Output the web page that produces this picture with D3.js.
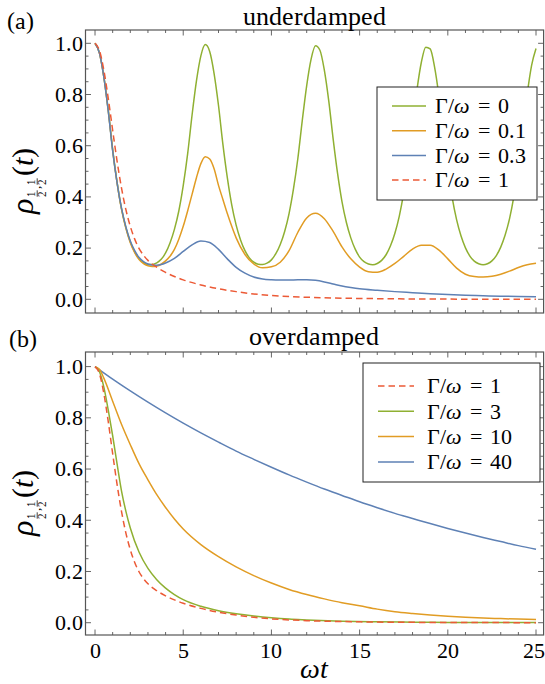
<!DOCTYPE html>
<html><head><meta charset="utf-8">
<script src="https://cdn.jsdelivr.net/npm/d3@7"></script>
<style>
body{margin:0;background:#fff}
@font-face{font-family:"RefSerif";src:local("Liberation Serif"),local("LiberationSerif"),local("Liberation Serif Regular"),local("LiberationSerif-Regular");font-style:normal;font-weight:400;}
@font-face{font-family:"RefSerif";src:local("Liberation Serif Italic"),local("LiberationSerif-Italic");font-style:italic;font-weight:400;}
</style>
</head><body>
<svg id="c" width="545" height="684"></svg>
<script>
// ---------------- data ----------------
const tQuarter = [0,0.25,0.5,0.75,1,1.25,1.5,1.75,2,2.25,2.5,2.75,3,3.25,3.5,3.75,4,4.25,4.5,4.75,5,5.25,5.5,5.75,6,6.25,6.5,6.75,7,7.25,7.5,7.75,8,8.25,8.5,8.75,9,9.25,9.5,9.75,10,10.25,10.5,10.75,11,11.25,11.5,11.75,12,12.25,12.5,12.75,13,13.25,13.5,13.75,14,14.25,14.5,14.75,15,15.25,15.5,15.75,16,16.25,16.5,16.75,17,17.25,17.5,17.75,18,18.25,18.5,18.75,19,19.25,19.5,19.75,20,20.25,20.5,20.75,21,21.25,21.5,21.75,22,22.25,22.5,22.75,23,23.25,23.5,23.75,24,24.25,24.5,24.75,25];
// (a) Gamma/omega = 0
const under0 = [1.000,0.963,0.870,0.740,0.585,0.458,0.355,0.280,0.225,0.185,0.158,0.143,0.136,
 0.136,0.142,0.156,0.181,0.220,0.273,0.345,0.444,0.568,0.719,0.853,0.951,0.995,
 0.968,0.882,0.757,0.605,0.475,0.369,0.290,0.232,0.190,0.162,0.145,0.137,
 0.136,0.141,0.154,0.178,0.214,0.265,0.335,0.431,0.551,0.699,0.835,0.938,0.990,
 0.973,0.895,0.775,0.626,0.492,0.382,0.300,0.240,0.196,0.165,0.147,0.138,
 0.135,0.140,0.152,0.174,0.209,0.258,0.325,0.417,0.534,0.678,0.818,0.926,0.985,
 0.978,0.907,0.792,0.647,0.509,0.396,0.310,0.247,0.201,0.169,0.149,0.139,
 0.135,0.139,0.150,0.171,0.204,0.251,0.315,0.404,0.517,0.657,0.801,0.914,0.980];
// (a) Gamma/omega = 0.1
const under01T = [0,0.25,0.5,0.75,1,1.25,1.5,1.75,2,2.25,2.5,2.75,3,3.25,3.5,3.75,4,4.25,4.5,4.75,5,5.25,5.5,5.75,6,6.25,6.5,6.75,7,7.25,7.5,7.75,8,8.5,9,9.5,10,10.5,11,11.5,12,12.5,13,13.5,14,14.5,15,15.5,16,16.5,17,17.5,18,18.5,19,19.5,20,20.5,21,21.5,22,22.5,23,23.5,24,24.5,25];
const under01 = [1.0,0.962,0.868,0.737,0.583,0.455,0.352,0.277,0.221,0.182,0.155,0.139,0.131,0.128,0.130,0.137,0.150,0.168,0.195,0.235,0.285,0.345,0.41,0.475,0.53,0.557,0.548,0.51,0.445,0.39,0.335,0.285,0.24,0.175,0.138,0.123,0.127,0.145,0.19,0.262,0.318,0.336,0.315,0.265,0.205,0.158,0.126,0.108,0.106,0.118,0.14,0.168,0.196,0.211,0.211,0.192,0.158,0.122,0.098,0.089,0.087,0.090,0.098,0.110,0.124,0.135,0.141];
// (a) Gamma/omega = 0.3
const under03T = [0,0.25,0.5,0.75,1,1.25,1.5,1.75,2,2.25,2.5,2.75,3,3.25,3.5,3.75,4,4.5,5,5.5,6,6.5,7,7.5,8,8.5,9,9.5,10,10.5,11,11.5,12,12.5,13,13.5,14,14.5,15,16,17,18,19,20,21,22,23,24,25];
const under03 = [1.0,0.962,0.868,0.735,0.58,0.455,0.356,0.283,0.228,0.19,0.163,0.147,0.138,0.134,0.133,0.136,0.142,0.16,0.187,0.213,0.228,0.222,0.195,0.158,0.125,0.102,0.087,0.079,0.076,0.075,0.075,0.076,0.076,0.074,0.068,0.06,0.052,0.046,0.041,0.035,0.03,0.026,0.022,0.019,0.016,0.014,0.012,0.011,0.010];
// Gamma/omega = 1 (both panels)
const crit1T = [0,0.25,0.5,0.75,1,1.25,1.5,1.75,2,2.25,2.5,2.75,3,3.5,4,4.5,5,6,7,8,9,10,11,12,13,14,16,18,20,22,25];
const crit1 = [1.0,0.972,0.895,0.785,0.66,0.54,0.435,0.35,0.285,0.235,0.198,0.172,0.152,0.125,0.105,0.089,0.076,0.056,0.041,0.03,0.021,0.015,0.011,0.008,0.006,0.0045,0.0025,0.0014,0.0008,0.0005,0.0002];
// (b) Gamma/omega = 3
const over3T = [0,0.25,0.5,0.75,1,1.25,1.5,1.75,2,2.5,3,3.5,4,4.5,5,6,7,8,9,10,11,12,14,16,18,20,25];
const over3 = [1.0,0.98,0.92,0.83,0.73,0.62,0.515,0.435,0.37,0.275,0.212,0.168,0.135,0.11,0.09,0.064,0.047,0.035,0.026,0.019,0.014,0.011,0.006,0.0035,0.002,0.0012,0.0004];
// (b) Gamma/omega = 10
const over10T = [0,0.25,0.5,1,1.5,2,2.5,3,3.5,4,4.5,5,6,7,8,9,10,11,12,13,14,15,16,17,18,19,20,21,22,23,24,25];
const over10 = [1.0,0.99,0.955,0.865,0.775,0.695,0.62,0.558,0.50,0.45,0.405,0.366,0.305,0.258,0.218,0.184,0.155,0.13,0.11,0.093,0.078,0.066,0.053,0.043,0.036,0.030,0.025,0.021,0.018,0.016,0.014,0.013];
// (b) Gamma/omega = 40
const over40T = [0,1,2,3,4,5,6,7,8,9,10,11,12,13,14,15,16,17,18,19,20,21,22,23,24,25];
const over40 = [1.0,0.951,0.905,0.861,0.819,0.779,0.741,0.705,0.670,0.638,0.607,0.577,0.549,0.522,0.497,0.472,0.449,0.427,0.407,0.387,0.368,0.350,0.333,0.317,0.301,0.287];

const xTicks = [0,5,10,15,20,25];
const xTickLabels = ["0","5","10","15","20","25"];
const yTicks = [0,0.2,0.4,0.6,0.8,1.0];
const yTickLabels = ["0.0","0.2","0.4","0.6","0.8","1.0"];
const legendA = ["0","0.1","0.3","1"];
const legendB = ["1","3","10","40"];

// ---------------- drawing ----------------
const C = {green:"#8FB032", orange:"#E19C24", blue:"#5E81B5", red:"#EC5A36"};
const svg = d3.select('#c');
const x = d3.scaleLinear().domain([-0.54, 25.43]).range([85.5, 543.6]);
const L = 85.5, R = 543.6;

function zip(t, v){ return t.map((d,i)=>[d, v[i]]); }
function txt(parent, size){
  return parent.append('text').attr('font-size', size)
    .style('font-family', '"RefSerif", "Liberation Serif", "Times New Roman", serif');
}

function panel(id, top, bottom, yDom, series, legendItems, legendBox, showXLabels){
  const y = d3.scaleLinear().domain(yDom).range([bottom, top]);
  const g = svg.append('g');
  const clipId = 'clip'+id;
  svg.append('clipPath').attr('id', clipId).append('rect')
    .attr('x', L).attr('y', top).attr('width', R-L).attr('height', bottom-top);
  const tk = g.append('g').attr('stroke','#555').attr('stroke-width',0.9);
  d3.range(0, 26, 1).forEach(v=>{
    const len = (v%5===0)?5.5:3;
    const px = x(v);
    tk.append('line').attr('x1',px).attr('x2',px).attr('y1',bottom).attr('y2',bottom-len);
    tk.append('line').attr('x1',px).attr('x2',px).attr('y1',top).attr('y2',top+len);
  });
  d3.range(0, 21, 1).forEach(i=>{
    const v = i*0.05;
    const len = (i%4===0)?5.5:3;
    const py = y(v);
    tk.append('line').attr('x1',L).attr('x2',L+len).attr('y1',py).attr('y2',py);
    tk.append('line').attr('x1',R).attr('x2',R-len).attr('y1',py).attr('y2',py);
  });
  const line = d3.line().x(d=>x(d[0])).y(d=>y(d[1])).curve(d3.curveMonotoneX);
  const cg = g.append('g').attr('clip-path', `url(#${clipId})`);
  series.forEach(s=>{
    cg.append('path').attr('d', line(s.data)).attr('fill','none')
      .attr('stroke', s.color).attr('stroke-width',1.5)
      .attr('stroke-dasharray', s.dash?'6.5,4':null);
  });
  g.append('rect').attr('x',L).attr('y',top).attr('width',R-L).attr('height',bottom-top)
    .attr('fill','none').attr('stroke','#555').attr('stroke-width',1.2);
  yTicks.forEach((v,i)=>{
    txt(g, 22).attr('x',82.5).attr('y',y(v)).attr('dy','0.33em')
      .attr('text-anchor','end').text(yTickLabels[i]);
  });
  if(showXLabels){
    xTicks.forEach((v,i)=>{
      txt(g, 22).attr('x',x(v) - (i===xTicks.length-1?2.5:0)).attr('y',bottom+23).attr('text-anchor','middle').text(xTickLabels[i]);
    });
  }
  const lb = legendBox;
  g.append('rect').attr('x',lb.x).attr('y',lb.y).attr('width',lb.w).attr('height',lb.h)
    .attr('fill','#fff').attr('stroke','#222').attr('stroke-width',1);
  legendItems.forEach((it,i)=>{
    const cy = lb.y + lb.row0 + i*lb.dy;
    g.append('line').attr('x1',lb.lx0).attr('x2',lb.lx1).attr('y1',cy).attr('y2',cy)
      .attr('stroke',it.color).attr('stroke-width',1.5)
      .attr('stroke-dasharray', it.dash?'6.5,4':null);
    const t = txt(g, 22).attr('x',lb.tx).attr('y',cy).attr('dy','0.33em');
    t.append('tspan').text('Γ/');
    t.append('tspan').attr('font-style','italic').text('ω');
    t.append('tspan').attr('dx',8).text('=');
    t.append('tspan').attr('dx',8).text(it.label);
  });
  return y;
}

function yLabel(cx, cy){
  const g = svg.append('g').attr('transform',`translate(${cx},${cy}) rotate(-90)`);
  let lx = -42;
  txt(g, 32).attr('x',lx).attr('y',0).attr('font-style','italic').text('ρ');
  lx += 16;
  function frac(fx){
    txt(g, 11).attr('x',fx).attr('y',2).attr('text-anchor','middle').text('1');
    g.append('line').attr('x1',fx-3.2).attr('x2',fx+3.2).attr('y1',4.2).attr('y2',4.2).attr('stroke','#111').attr('stroke-width',0.8);
    txt(g, 11).attr('x',fx).attr('y',13).attr('text-anchor','middle').text('2');
  }
  frac(lx+4);
  txt(g, 13).attr('x',lx+8.5).attr('y',7).text(',');
  frac(lx+16);
  lx += 22;
  const t = txt(g, 30).attr('x',lx).attr('y',0);
  t.append('tspan').text('(');
  t.append('tspan').attr('font-style','italic').text('t');
  t.append('tspan').text(')');
}

panel('a', 30, 313, [-0.0535, 1.052], [
  {data: zip(tQuarter, under0), color: C.green},
  {data: zip(under01T, under01), color: C.orange},
  {data: zip(under03T, under03), color: C.blue},
  {data: zip(crit1T, crit1), color: C.red, dash: true}
], [
  {label: legendA[0], color: C.green},
  {label: legendA[1], color: C.orange},
  {label: legendA[2], color: C.blue},
  {label: legendA[3], color: C.red, dash: true}
], {x:377, y:87, w:160, h:113, row0:19, dy:24.7, lx0:392, lx1:426, tx:435}, false);

panel('b', 352, 635, [-0.048, 1.057], [
  {data: zip(over40T, over40), color: C.blue},
  {data: zip(over10T, over10), color: C.orange},
  {data: zip(over3T, over3), color: C.green},
  {data: zip(crit1T, crit1), color: C.red, dash: true}
], [
  {label: legendB[0], color: C.red, dash: true},
  {label: legendB[1], color: C.green},
  {label: legendB[2], color: C.orange},
  {label: legendB[3], color: C.blue}
], {x:363, y:363, w:177, h:119, row0:23, dy:25.3, lx0:378, lx1:414, tx:427}, true);

txt(svg, 26).attr('x',314).attr('y',25).attr('text-anchor','middle').text('underdamped');
txt(svg, 26).attr('x',314).attr('y',345).attr('text-anchor','middle').text('overdamped');
txt(svg, 24).attr('x',7).attr('y',29).text('(a)');
txt(svg, 24).attr('x',9).attr('y',347).text('(b)');
txt(svg, 28).attr('x',314).attr('y',678).attr('text-anchor','middle').attr('font-style','italic').text('ωt');
yLabel(33, 171.5);
yLabel(33, 493.5);
</script>
</body></html>
